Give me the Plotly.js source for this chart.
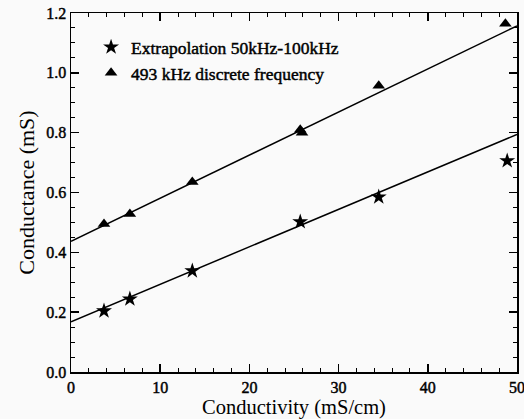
<!DOCTYPE html>
<html>
<head>
<meta charset="utf-8">
<script src="https://cdn.plot.ly/plotly-3.0.1.min.js"></script>
<style>
html,body{margin:0;padding:0;background:#fafafa;}
#chart{width:524px;height:419px;}
.xtick text, .ytick text, .legendtext { stroke:#000; stroke-width:0.45px; }
</style>
</head>
<body>
<div id="chart"></div>
<script>
// Data
const starX = [3.7, 6.6, 13.6, 25.7, 34.5, 48.9];
const starY = [0.204, 0.244, 0.338, 0.502, 0.585, 0.706];
const triX = [3.7, 6.6, 13.6, 25.7, 25.9, 34.5, 48.7];
const triY = [0.495, 0.528, 0.635, 0.810, 0.800, 0.957, 1.164];
const fitX = [0, 50];
const fitStarY = [0.168, 0.794];
const fitTriY = [0.437, 1.157];
const starName = "Extrapolation 50kHz-100kHz";
const triName = "493 kHz discrete frequency";

const serif = "Liberation Serif, Times New Roman, serif";

const traces = [
  {x: fitX, y: fitStarY, mode: "lines", line: {color: "#000", width: 1.5}, showlegend: false, hoverinfo: "skip"},
  {x: fitX, y: fitTriY, mode: "lines", line: {color: "#000", width: 1.5}, showlegend: false, hoverinfo: "skip"},
  {x: starX, y: starY, mode: "markers", name: starName,
   marker: {symbol: "star", size: 12, color: "#000"}},
  {x: triX, y: triY, mode: "markers", name: triName,
   marker: {symbol: "triangle-up", size: 11, color: "#000"}}
];

const axisCommon = {
  showgrid: false, zeroline: false, showline: true, linecolor: "#000", linewidth: 1.5,
  mirror: "ticks", ticks: "inside", ticklen: 8, tickwidth: 1.5, tickcolor: "#000",
  ticklabeloverflow: "allow",
  tickfont: {family: serif, size: 16, color: "#000"}
};

const layout = {
  width: 524, height: 419,
  margin: {l: 71, r: 7, t: 13, b: 47},
  paper_bgcolor: "#fafafa", plot_bgcolor: "#fafafa",
  font: {family: serif, color: "#000"},
  xaxis: Object.assign({}, axisCommon, {
    range: [0, 50], dtick: 10, tick0: 0,
    minor: {ticks: "inside", dtick: 2, ticklen: 4, tickwidth: 1, tickcolor: "#000"},
    title: {text: "Conductivity (mS/cm)", font: {family: serif, size: 20.5, color: "#000"}, standoff: 1}
  }),
  yaxis: Object.assign({}, axisCommon, {
    range: [0, 1.2], dtick: 0.2, tick0: 0, tickformat: ".1f",
    minor: {ticks: "inside", dtick: 0.05, ticklen: 4, tickwidth: 1, tickcolor: "#000"},
    title: {text: "Conductance (mS)", font: {family: serif, size: 22, color: "#000"}, standoff: 5}
  }),
  legend: {
    x: 0.045, y: 0.955, xanchor: "left", yanchor: "top",
    bgcolor: "rgba(0,0,0,0)", borderwidth: 0,
    font: {family: serif, size: 17.5, color: "#000"},
    tracegroupgap: 0, itemwidth: 30
  },
  showlegend: true
};

Plotly.newPlot("chart", traces, layout, {displayModeBar: false, staticPlot: true});
</script>
</body>
</html>
